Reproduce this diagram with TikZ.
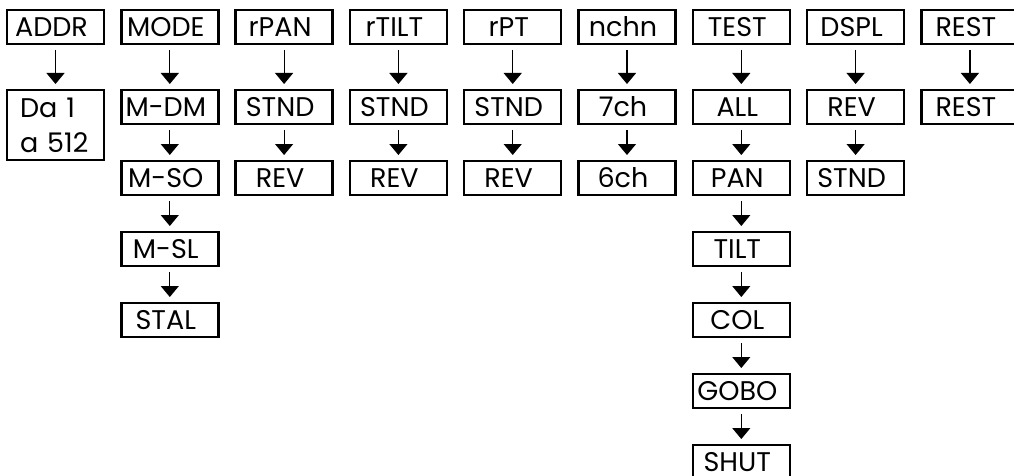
\documentclass[tikz,border=0pt]{standalone}
\usepackage{fontspec}
\setmainfont{Poppins}
\usetikzlibrary{positioning, arrows.meta}

\begin{document}
\begin{tikzpicture}[
    x=1pt, y=1pt,
    % Node styles
    box/.style={
        rectangle,
        draw=black,
        line width=2.4pt,
        minimum width=97pt,
        minimum height=33.6pt,
        inner sep=0pt,
        font=\fontsize{27}{35}\selectfont,
        execute at begin node={\hspace*{-8pt}}
    },
    tallbox/.style={
        rectangle,
        draw=black,
        line width=2.4pt,
        minimum height=69.6pt,
        text width=71pt,
        inner xsep=13pt,
        inner ysep=0pt,
        align=left,
        font=\fontsize{27}{35}\selectfont
    },
    arrow/.style={
        -{Triangle[length=11pt, width=18pt]},
        line width=1.2pt,
        shorten <=5pt,
        shorten >=5pt
    }
]

% Define spacing
\def\xsep{14.9pt}
\def\ysep{35pt}
\def\yfirst{44pt}

\useasboundingbox (0,0) rectangle (1014,-476);

% Top row: menu entries
\node[box] (addr) at (55.5,-27) {ADDR};
\node[box, right=\xsep of addr] (mode) {MODE};
\node[box, right=\xsep of mode] (rpan) {rPAN};
\node[box, right=\xsep of rpan] (rtilt) {rTILT};
\node[box, right=\xsep of rtilt] (rpt) {rPT};
\node[box, right=\xsep of rpt] (nchn) {nchn};
\node[box, right=\xsep of nchn] (test) {TEST};
\node[box, right=\xsep of test] (dspl) {DSPL};
\node[box, right=\xsep of dspl] (rest) {REST};

% ADDR
\node[tallbox, below=\yfirst of addr] (da) {Da 1\\a 512};

% MODE
\node[box, below=\yfirst of mode] (mdm) {M-DM};
\node[box, below=\ysep of mdm] (mso) {M-SO};
\node[box, below=\ysep of mso] (msl) {M-SL};
\node[box, below=\ysep of msl] (stal) {STAL};

% rPAN
\node[box, below=\yfirst of rpan] (panstnd) {STND};
\node[box, below=\ysep of panstnd] (panrev) {REV};

% rTILT
\node[box, below=\yfirst of rtilt] (tiltstnd) {STND};
\node[box, below=\ysep of tiltstnd] (tiltrev) {REV};

% rPT
\node[box, below=\yfirst of rpt] (ptstnd) {STND};
\node[box, below=\ysep of ptstnd] (ptrev) {REV};

% nchn
\node[box, below=\yfirst of nchn] (seven) {7ch};
\node[box, below=\ysep of seven] (six) {6ch};

% TEST
\node[box, below=\yfirst of test] (all) {ALL};
\node[box, below=\ysep of all] (pan) {PAN};
\node[box, below=\ysep of pan] (tilt) {TILT};
\node[box, below=\ysep of tilt] (col) {COL};
\node[box, below=\ysep of col] (gobo) {GOBO};
\node[box, below=\ysep of gobo] (shut) {SHUT};

% DSPL
\node[box, below=\yfirst of dspl] (dsplrev) {REV};
\node[box, below=\ysep of dsplrev] (dsplstnd) {STND};

% REST
\node[box, below=\yfirst of rest] (restrest) {REST};

% Arrows
\foreach \a/\b in {addr/da, mode/mdm, mdm/mso, mso/msl, msl/stal,
                   rpan/panstnd, panstnd/panrev, rtilt/tiltstnd, tiltstnd/tiltrev,
                   rpt/ptstnd, ptstnd/ptrev, nchn/seven, seven/six,
                   test/all, all/pan, pan/tilt, tilt/col, col/gobo, gobo/shut,
                   dspl/dsplrev, dsplrev/dsplstnd, rest/restrest} {
    \draw[arrow] (\a) -- (\b);
}

\end{tikzpicture}
\end{document}
